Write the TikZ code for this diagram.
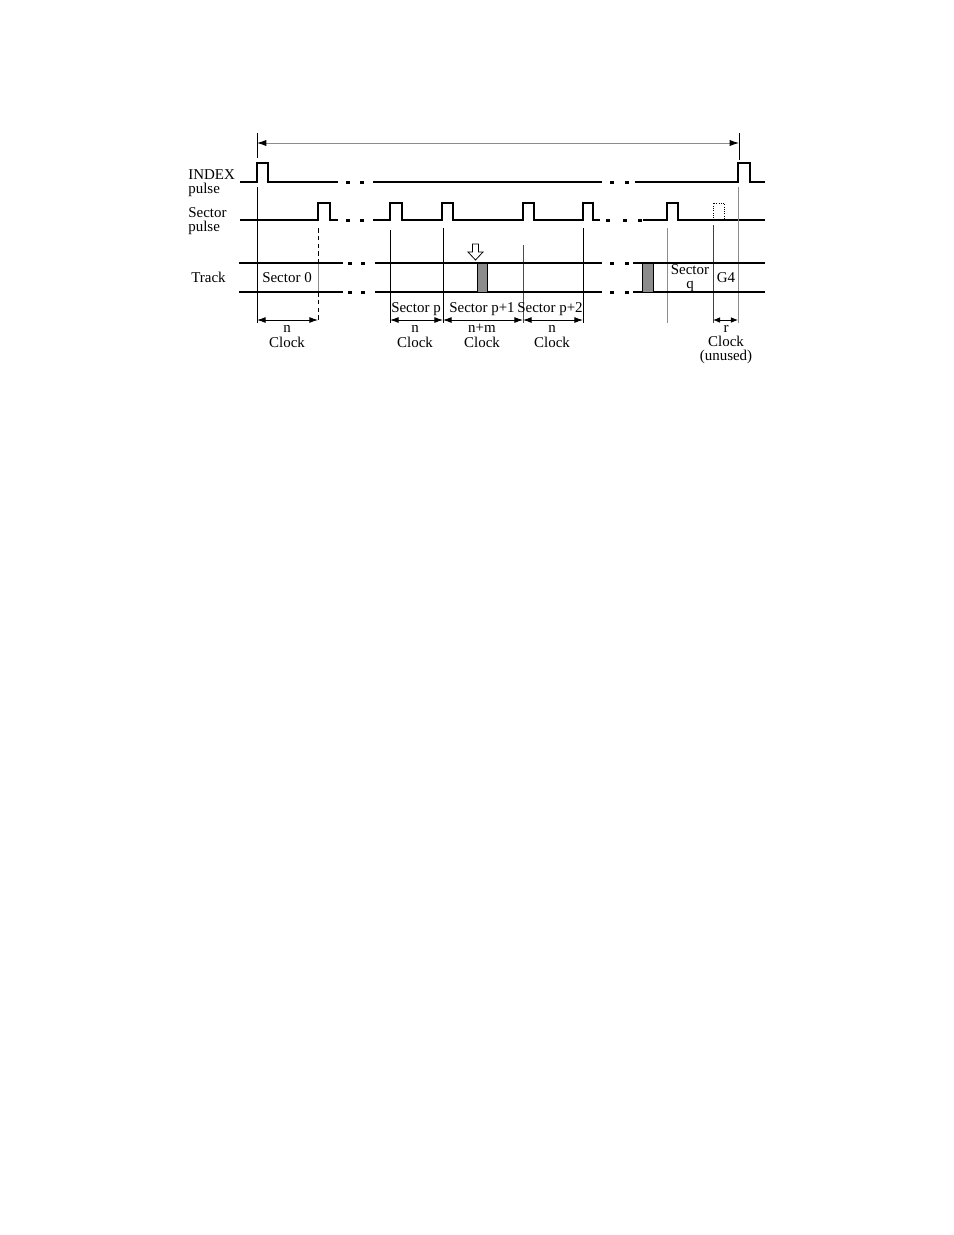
\documentclass[tikz,border=0pt]{standalone}
\usepackage{fontspec}
\setmainfont{Liberation Serif}
\usetikzlibrary{arrows.meta}
\begin{document}
\begin{tikzpicture}[x=0.6415pt,y=-0.6415pt,
  sig/.style={line width=0.75pt,line join=miter},
  vln/.style={line width=0.45pt},
  gln/.style={line width=0.55pt,draw=black!45},
  dim/.style={line width=0.55pt,{Latex[length=5.5pt,width=3.8pt]}-{Latex[length=5.5pt,width=3.8pt]}},
  lbl/.style={inner sep=0pt,anchor=base,font=\fontsize{9.6}{10}\selectfont},
  lbll/.style={lbl,anchor=base west},
  dotm/.style={fill=black,draw=none},
  blk/.style={fill=black!45,draw=black,line width=0.6pt}]
\useasboundingbox (0,0) rectangle (954,1235);

% ---- top span arrow ----
\coordinate (topL) at (257,143);
\coordinate (topR) at (739,143);
\draw[vln] (257,133) -- (257,158);
\draw[vln] (739,133) -- (739,160);
\draw[line width=0.55pt,draw=black!45,{Latex[length=6pt,width=4pt,color=black]}-{Latex[length=6pt,width=4pt,color=black]}] (topL) -- (topR);

% ---- row labels ----
\node[lbll] (idxA) at (188,179) {INDEX};
\node[lbll] (idxB) at (188,193) {pulse};
\node[lbll] (secA) at (188,217) {Sector};
\node[lbll] (secB) at (188,231) {pulse};
\node[lbll] (trk) at (191,282) {Track};

% ---- INDEX pulse ----
\draw[sig] (240,182) -- (257,182) -- (257,163) -- (268,163) -- (268,182) -- (338,182);
\draw[sig] (373,182) -- (602,182);
\draw[sig] (635,182) -- (738,182) -- (738,163) -- (750,163) -- (750,182) -- (765,182);
\foreach \x in {348,362,612,627} \fill[dotm] (\x-2,180.5) rectangle (\x+2,183.5);

% ---- Sector pulse ----
\draw[sig] (240,220) -- (318,220) -- (318,203) -- (330,203) -- (330,220) -- (338,220);
\draw[sig] (373,220) -- (390,220) -- (390,203) -- (402,203) -- (402,220)
   -- (442,220) -- (442,203) -- (453,203) -- (453,220)
   -- (523,220) -- (523,203) -- (534,203) -- (534,220)
   -- (583,220) -- (583,203) -- (593,203) -- (593,220) -- (600,220);
\draw[sig] (643,220) -- (667,220) -- (667,203) -- (678,203) -- (678,220) -- (765,220);
\draw[line width=0.45pt,densely dotted] (713,220) -- (713,203) -- (724,203) -- (724,220);
\foreach \x in {348,362,608,625,640} \fill[dotm] (\x-2,218.5) rectangle (\x+2,221.5);

% ---- vertical markers ----
\draw[vln] (257,187) -- (257,323);
\draw[vln,densely dashed] (318,228) -- (318,263);
\draw[gln] (318,263) -- (318,292);
\draw[vln,densely dashed] (318,292) -- (318,323);
\draw[vln] (390,230) -- (390,323);
\draw[vln] (443,228) -- (443,323);
\draw[line width=0.45pt,draw=black!70] (523,245) -- (523,323);
\draw[vln] (583,228) -- (583,323);
\draw[gln] (667,228) -- (667,323);
\draw[line width=0.45pt,draw=black!75] (713,225) -- (713,323);
\draw[gln] (738,187) -- (738,323);

% ---- Track ----
\foreach \y in {263,292} {
  \draw[sig] (239,\y) -- (343,\y);
  \draw[sig] (375,\y) -- (602,\y);
  \draw[sig] (633,\y) -- (765,\y);
  \foreach \x in {350,363,612,627} \fill[dotm] (\x-2,\y-1.5) rectangle (\x+2,\y+1.5);
}
\draw[blk] (477,263) rectangle (487,292);
\draw[blk] (642,263) rectangle (653,292);
% hollow marker arrow
\draw[line width=0.5pt,fill=white] (472.5,244) -- (478.5,244) -- (478.5,252) -- (483,252)
  -- (475.5,260) -- (468,252) -- (472.5,252) -- cycle;

\node[lbl] (s0) at (287,282) {Sector 0};
\node[lbl] (sqA) at (690,274) {Sector};
\node[lbl] (sqB) at (690,288) {q};
\node[lbl] (g4) at (726,282) {G4};

\node[lbl] (sp) at (416,312) {Sector p};
\node[lbl] (sp1) at (482,312) {Sector p+1};
\node[lbl] (sp2) at (550,312) {Sector p+2};

% ---- dimension arrows ----
\coordinate (d0) at (257,320); \coordinate (d1) at (318,320);
\coordinate (d2) at (390,320); \coordinate (d3) at (443,320);
\coordinate (d4) at (523,320); \coordinate (d5) at (583,320);
\coordinate (d6) at (713,320); \coordinate (d7) at (738,320);
\draw[dim] (d0) -- (d1);
\draw[dim] (d2) -- (d3);
\draw[dim] (d3) -- (d4);
\draw[dim] (d4) -- (d5);
\draw[line width=0.55pt,{Latex[length=4.5pt,width=3.6pt]}-{Latex[length=4.5pt,width=3.6pt]}] (d6) -- (d7);

\node[lbl] (c0a) at (287,332) {n};
\node[lbl] (c0b) at (287,347) {Clock};
\node[lbl] (c1a) at (415,332) {n};
\node[lbl] (c1b) at (415,347) {Clock};
\node[lbl] (c2a) at (482,332) {n+m};
\node[lbl] (c2b) at (482,347) {Clock};
\node[lbl] (c3a) at (552,332) {n};
\node[lbl] (c3b) at (552,347) {Clock};
\node[lbl] (c4a) at (726,332) {r};
\node[lbl] (c4b) at (726,346) {Clock};
\node[lbl] (c4c) at (726,360) {(unused)};
\end{tikzpicture}
\end{document}
